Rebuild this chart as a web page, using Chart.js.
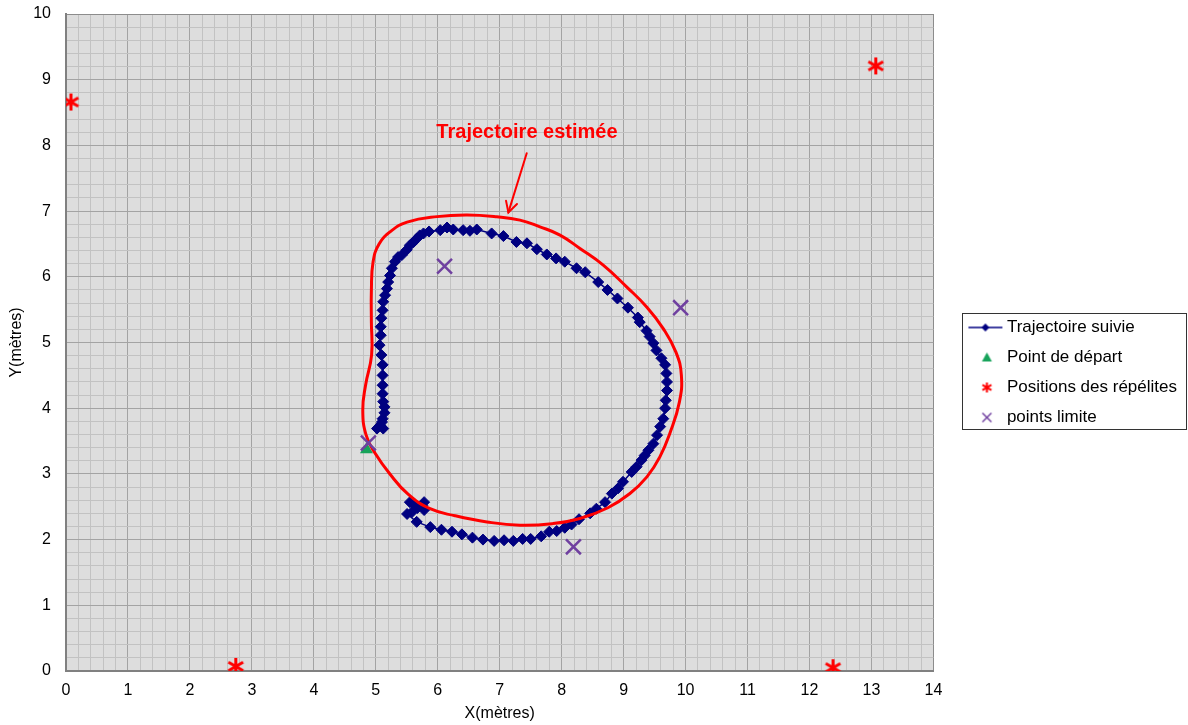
<!DOCTYPE html>
<html lang="fr">
<head>
<meta charset="utf-8">
<title>Trajectoire suivie et trajectoire estimée</title>
<script src="https://cdn.jsdelivr.net/npm/chart.js@4.4.1/dist/chart.umd.min.js"></script>
<style>
  html, body { margin: 0; padding: 0; background: #ffffff; }
  #wrap { position: relative; width: 1188px; height: 725px; }
</style>
</head>
<body>
<div id="wrap"><canvas id="chart" width="1188" height="725"></canvas></div>
<script>
// ---- Trajectoire suivie (mètres), in recorded order ----
const suiviX = [5.02, 5.12, 5.07, 5.10, 5.11, 5.14, 5.14, 5.12, 5.11, 5.11, 5.11, 5.11, 5.09, 5.06, 5.08, 5.08,
  5.09, 5.11, 5.12, 5.15, 5.18, 5.20, 5.23, 5.26, 5.31, 5.36, 5.42, 5.50, 5.55, 5.61, 5.66, 5.71, 5.77, 5.86,
  6.04, 6.15, 6.25, 6.41, 6.52, 6.63, 6.87, 7.06, 7.27, 7.44, 7.60, 7.76, 7.91, 8.05, 8.24, 8.38, 8.59, 8.74,
  8.90, 9.07, 9.23, 9.26, 9.37, 9.42, 9.48, 9.53, 9.61, 9.67, 9.69, 9.70, 9.70, 9.68, 9.67, 9.64, 9.59, 9.54,
  9.48, 9.40, 9.34, 9.29, 9.21, 9.13, 8.99, 8.91, 8.81, 8.70, 8.56, 8.46, 8.28, 8.16, 8.05, 7.92, 7.80, 7.67,
  7.50, 7.37, 7.22, 7.07, 6.91, 6.73, 6.56, 6.39, 6.23, 6.06, 5.88, 5.66, 5.505, 5.585, 5.67, 5.55, 5.63, 5.75,
  5.78, 5.78];
const suiviY = [3.69, 3.69, 3.74, 3.79, 3.84, 3.93, 4.02, 4.10, 4.22, 4.35, 4.50, 4.66, 4.81, 4.96, 5.11, 5.24,
  5.37, 5.49, 5.62, 5.72, 5.82, 5.92, 6.02, 6.13, 6.23, 6.30, 6.33, 6.41, 6.48, 6.53, 6.58, 6.63, 6.66, 6.69,
  6.71, 6.75, 6.72, 6.71, 6.70, 6.72, 6.66, 6.62, 6.53, 6.51, 6.42, 6.34, 6.28, 6.23, 6.13, 6.07, 5.92, 5.80,
  5.67, 5.53, 5.38, 5.31, 5.18, 5.09, 4.99, 4.88, 4.76, 4.66, 4.53, 4.40, 4.27, 4.12, 4.00, 3.84, 3.72, 3.59,
  3.46, 3.36, 3.28, 3.21, 3.11, 3.03, 2.88, 2.78, 2.70, 2.57, 2.47, 2.40, 2.31, 2.23, 2.18, 2.13, 2.12, 2.05,
  2.01, 2.01, 1.98, 1.99, 1.98, 2.00, 2.03, 2.08, 2.12, 2.15, 2.19, 2.27, 2.39, 2.42, 2.48, 2.57, 2.52, 2.52,
  2.57, 2.45];

// ---- Point de départ ----
const departX = [4.85];
const departY = [3.37];

// ---- Positions des répélites ----
const repelitesX = [0.08, 13.07, 2.74, 12.38];
const repelitesY = [8.66, 9.21, 0.07, 0.05];

// ---- points limite ----
const limiteX = [6.11, 9.92, 8.19, 4.88];
const limiteY = [6.16, 5.53, 1.89, 3.47];

// ---- Trajectoire estimée: closed contour, clockwise from the left side ----
const estimeeX = [4.932, 4.929, 4.929, 4.956, 5.053, 5.247, 5.505, 5.989, 6.473, 6.956, 7.327, 7.650, 7.973,
  8.295, 8.671, 9.048, 9.376, 9.634, 9.844, 9.932, 9.900, 9.747, 9.585, 9.376, 9.102, 8.747, 8.295, 7.844,
  7.327, 6.795, 6.279, 5.876, 5.521, 5.231, 4.989, 4.844, 4.790, 4.835];
const estimeeY = [4.807, 5.310, 5.797, 6.224, 6.498, 6.696, 6.833, 6.916, 6.939, 6.913, 6.863, 6.761, 6.635,
  6.432, 6.178, 5.847, 5.538, 5.219, 4.853, 4.503, 4.092, 3.620, 3.259, 2.954, 2.701, 2.485, 2.321, 2.242,
  2.219, 2.269, 2.363, 2.470, 2.691, 2.995, 3.315, 3.589, 3.970, 4.351];

// ---- Axis tick labels ----
const xTickLabels = ['0', '1', '2', '3', '4', '5', '6', '7', '8', '9', '10', '11', '12', '13', '14'];
const yTickLabels = ['0', '1', '2', '3', '4', '5', '6', '7', '8', '9', '10'];

// ---- Annotation ----
const annotationText = 'Trajectoire estimée';
const annotationAt = { x: 7.44, y: 8.19 };
const arrowFrom = { x: 7.436, y: 7.88 };
const arrowTo = { x: 7.14, y: 6.98 };

// ---------------------------------------------------------------
const NAVY = '#000080';
const RED = '#ff0000';
const GREEN = '#17a35a';
const PURPLE = '#7040a0';

const toPoints = (xs, ys) => xs.map((x, i) => ({ x, y: ys[i] }));

// Closed contour: prepend the last vertex and append the first two so the
// spline tangents are continuous where the loop closes; the two extra
// end segments are hidden below.
const loop = toPoints(estimeeX, estimeeY);
const estimeeData = [loop[loop.length - 1], ...loop, loop[0], loop[1]];

function isMajor(v) { return Math.abs(v - Math.round(v)) < 1e-6; }

// Asterisk marker (vertical bar + two slanted bars)
function makeStar(size, lw, color) {
  const c = document.createElement('canvas');
  c.width = size; c.height = size;
  const g = c.getContext('2d');
  const m = size / 2, r = size / 2 - 1;
  g.strokeStyle = color; g.lineWidth = lw;
  g.beginPath();
  g.moveTo(m, m - r); g.lineTo(m, m + r);
  const dx = r * 0.866, dy = r * 0.5;
  g.moveTo(m - dx, m - dy); g.lineTo(m + dx, m + dy);
  g.moveTo(m - dx, m + dy); g.lineTo(m + dx, m - dy);
  g.stroke();
  return c;
}

// Legend icons: the glyph sits to the right of the legend box slot
function makeIcon(draw) {
  const c = document.createElement('canvas');
  c.width = 62; c.height = 18;
  const g = c.getContext('2d');
  draw(g, 9);
  return c;
}
const legendIcons = [
  makeIcon((g, cy) => {
    g.strokeStyle = NAVY; g.lineWidth = 1.5;
    g.beginPath(); g.moveTo(27, cy); g.lineTo(61, cy); g.stroke();
    g.fillStyle = NAVY;
    g.beginPath(); g.moveTo(44, cy - 4); g.lineTo(48, cy); g.lineTo(44, cy + 4); g.lineTo(40, cy); g.closePath(); g.fill();
  }),
  makeIcon((g, cy) => {
    g.fillStyle = GREEN;
    g.beginPath(); g.moveTo(45.5, cy - 5); g.lineTo(50.5, cy + 4); g.lineTo(40.5, cy + 4); g.closePath(); g.fill();
  }),
  makeIcon((g, cy) => {
    g.strokeStyle = RED; g.lineWidth = 2;
    g.beginPath();
    g.moveTo(45.5, cy - 5); g.lineTo(45.5, cy + 5);
    g.moveTo(41, cy - 2.6); g.lineTo(50, cy + 2.6);
    g.moveTo(41, cy + 2.6); g.lineTo(50, cy - 2.6);
    g.stroke();
  }),
  makeIcon((g, cy) => {
    g.strokeStyle = PURPLE; g.lineWidth = 1.5;
    g.beginPath();
    g.moveTo(41, cy - 4.5); g.lineTo(50, cy + 4.5);
    g.moveTo(41, cy + 4.5); g.lineTo(50, cy - 4.5);
    g.stroke();
  })
];

const plotBackground = {
  id: 'plotBackground',
  beforeDraw(chart) {
    const { ctx, chartArea: a } = chart;
    ctx.save();
    ctx.fillStyle = '#dddddd';
    ctx.fillRect(a.left, a.top, a.right - a.left, a.bottom - a.top);
    ctx.restore();
  }
};

const legendFrame = {
  id: 'legendFrame',
  afterDraw(chart) {
    const lg = chart.legend;
    if (!lg || !lg.legendHitBoxes || !lg.legendHitBoxes.length) return;
    const hb = lg.legendHitBoxes;
    const half = 8.5;
    const left = lg.left + 28.5;
    const top = hb[0].top + half - 14.5;
    const bottom = hb[hb.length - 1].top + half + 11.5;
    const right = chart.width - 1;
    const { ctx } = chart;
    ctx.save();
    ctx.strokeStyle = '#333333';
    ctx.lineWidth = 1;
    ctx.strokeRect(Math.round(left) + 0.5, Math.round(top) + 0.5, Math.round(right - left) - 1, Math.round(bottom - top));
    ctx.restore();
  }
};

const annotation = {
  id: 'annotation',
  afterDatasetsDraw(chart) {
    const { ctx, scales: { x, y } } = chart;
    ctx.save();
    ctx.fillStyle = RED;
    ctx.font = "bold 20px 'Liberation Sans', Arial, sans-serif";
    ctx.textAlign = 'center';
    ctx.textBaseline = 'middle';
    ctx.fillText(annotationText, x.getPixelForValue(annotationAt.x), y.getPixelForValue(annotationAt.y));
    const x0 = x.getPixelForValue(arrowFrom.x), y0 = y.getPixelForValue(arrowFrom.y);
    const x1 = x.getPixelForValue(arrowTo.x), y1 = y.getPixelForValue(arrowTo.y);
    ctx.strokeStyle = RED;
    ctx.lineWidth = 2;
    ctx.lineCap = 'round';
    ctx.beginPath(); ctx.moveTo(x0, y0); ctx.lineTo(x1, y1); ctx.stroke();
    const ang = Math.atan2(y1 - y0, x1 - x0);
    const len = 12, spread = 0.5;
    ctx.beginPath();
    ctx.moveTo(x1 - len * Math.cos(ang - spread), y1 - len * Math.sin(ang - spread));
    ctx.lineTo(x1, y1);
    ctx.lineTo(x1 - len * Math.cos(ang + spread), y1 - len * Math.sin(ang + spread));
    ctx.stroke();
    ctx.restore();
  }
};

Chart.defaults.font.family = "'Liberation Sans', Arial, sans-serif";
Chart.defaults.color = '#000000';

const gridColor = (max) => (ctx) => {
  if (!ctx.tick) return '#c2c2c2';
  const v = ctx.tick.value;
  if (Math.abs(v - max) < 1e-6) return '#8c8c8c';
  return isMajor(v) ? '#a3a3a3' : '#c2c2c2';
};

new Chart(document.getElementById('chart'), {
  type: 'scatter',
  data: {
    datasets: [
      {
        label: 'Trajectoire suivie',
        data: toPoints(suiviX, suiviY),
        showLine: true,
        borderColor: NAVY,
        borderWidth: 1.5,
        backgroundColor: NAVY,
        pointStyle: 'rectRot',
        pointRadius: 5.5,
        pointBorderWidth: 1,
        pointBackgroundColor: NAVY,
        pointBorderColor: NAVY,
        order: 5
      },
      {
        label: 'Point de départ',
        data: toPoints(departX, departY),
        pointStyle: 'triangle',
        pointRadius: 7.5,
        pointBorderWidth: 0,
        backgroundColor: GREEN,
        borderColor: GREEN,
        order: 4
      },
      {
        label: 'Positions des répélites',
        data: toPoints(repelitesX, repelitesY),
        pointStyle: makeStar(19, 3, RED),
        pointRadius: 9,
        backgroundColor: RED,
        borderColor: RED,
        order: 3
      },
      {
        label: 'points limite',
        data: toPoints(limiteX, limiteY),
        pointStyle: 'crossRot',
        pointRadius: 10.5,
        pointBorderWidth: 2.5,
        backgroundColor: PURPLE,
        borderColor: PURPLE,
        order: 1
      },
      {
        label: 'Trajectoire estimée',
        data: estimeeData,
        showLine: true,
        pointRadius: 0,
        borderColor: RED,
        borderWidth: 3,
        tension: 0.45,
        segment: {
          borderColor: (ctx) => (ctx.p0DataIndex === 0 || ctx.p1DataIndex === estimeeData.length - 1) ? 'rgba(0,0,0,0)' : RED
        },
        order: 2
      }
    ]
  },
  options: {
    responsive: false,
    animation: false,
    events: [],
    layout: { padding: { top: 14, right: 1, bottom: 0, left: 0 } },
    scales: {
      x: {
        type: 'linear',
        min: 0,
        max: 14,
        afterFit: (s) => { s.height = 54; },
        ticks: {
          stepSize: 0.2,
          autoSkip: false,
          maxRotation: 0,
          padding: 10,
          font: { size: 16 },
          color: '#000',
          callback: (v) => isMajor(v) ? xTickLabels[Math.round(v)] : ''
        },
        grid: { drawTicks: false, color: gridColor(14), lineWidth: 1 },
        border: { display: true, color: '#808080', width: 2 },
        title: { display: true, text: 'X(mètres)', font: { size: 16 }, color: '#000', padding: { top: 2, bottom: 1.4 } }
      },
      y: {
        type: 'linear',
        min: 0,
        max: 10,
        afterFit: (s) => { s.width = 66; s.paddingTop = 10; s.paddingBottom = 10; },
        ticks: {
          stepSize: 0.2,
          autoSkip: false,
          padding: 15,
          font: { size: 16 },
          color: '#000',
          callback: (v) => isMajor(v) ? yTickLabels[Math.round(v)] : ''
        },
        grid: { drawTicks: false, color: gridColor(10), lineWidth: 1 },
        border: { display: true, color: '#808080', width: 2 },
        title: { display: true, text: 'Y(mètres)', font: { size: 16 }, color: '#000', padding: { top: 7.4, bottom: 0 } }
      }
    },
    plugins: {
      tooltip: { enabled: false },
      legend: {
        position: 'right',
        align: 'center',
        title: { display: true, text: ' ', font: { size: 6, lineHeight: 1 }, padding: 0 },
        labels: {
          usePointStyle: true,
          pointStyleWidth: 52,
          padding: 13,
          color: '#000',
          font: { size: 17 },
          filter: (item) => item.datasetIndex < 4,
          sort: (a, b) => a.datasetIndex - b.datasetIndex,
          generateLabels: (chart) => {
            const items = Chart.defaults.plugins.legend.labels.generateLabels(chart);
            items.forEach((it) => { it.pointStyle = legendIcons[it.datasetIndex] || it.pointStyle; it.rotation = 0; });
            return items;
          }
        }
      }
    }
  },
  plugins: [plotBackground, legendFrame, annotation]
});
</script>
</body>
</html>
